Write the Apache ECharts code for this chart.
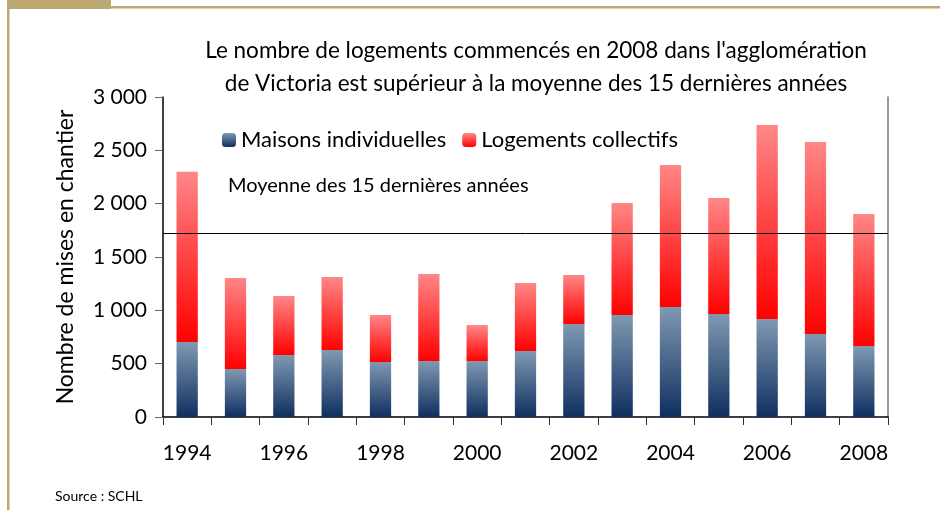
<!DOCTYPE html>
<html><head><meta charset="utf-8">
<script src="https://cdn.jsdelivr.net/npm/echarts@6/dist/echarts.min.js"></script>
<style>html,body{margin:0;padding:0;background:#fff}#c{width:940px;height:510px}</style>
</head><body><div id="c"></div>
<script>
const years = ['1994','1995','1996','1997','1998','1999','2000','2001','2002','2003','2004','2005','2006','2007','2008'];
const maisons = [703, 450, 581, 628, 516, 525, 525, 619, 872, 956, 1031, 966, 919, 778, 666];
const collectifs = [1597, 853, 553, 684, 440, 816, 337, 637, 459, 1050, 1331, 1087, 1818, 1800, 1237];
const moyenne = 1722;
const yTicks = [0, 500, 1000, 1500, 2000, 2500, 3000];

const FONT = 'Lato';
const chart = echarts.init(document.getElementById('c'));
const blueGrad = new echarts.graphic.LinearGradient(0,0,0,1,[{offset:0,color:'#8099b2'},{offset:1,color:'#0f2f60'}]);
const redGrad = new echarts.graphic.LinearGradient(0,0,0,1,[{offset:0,color:'#ff8787'},{offset:1,color:'#ff0000'}]);
const gold = '#bca972';
chart.setOption({
  animation:false,
  textStyle:{fontFamily:FONT},
  title:{
    text:"Le nombre de logements commencés en 2008 dans l'agglomération\nde Victoria est supérieur à la moyenne des 15 dernières années",
    left:531, top:29, textAlign:'center',
    textStyle:{fontFamily:FONT,fontSize:22.5,fontWeight:'normal',color:'#000',lineHeight:33}
  },
  legend:{
    left:217, top:124, itemWidth:14, itemHeight:14, itemGap:16,
    textStyle:{fontFamily:FONT,fontSize:22,color:'#000'},
    data:['Maisons individuelles','Logements collectifs']
  },
  grid:{left:163,right:52,top:97,bottom:93},
  xAxis:{
    type:'category', data:years, boundaryGap:true,
    axisLine:{lineStyle:{color:'#000',width:1.5}},
    axisTick:{show:true,interval:0,length:8,lineStyle:{color:'#333'}},
    axisLabel:{interval:1,fontFamily:FONT,fontSize:21,color:'#000',margin:26}
  },
  yAxis:[{
    type:'value', min:yTicks[0], max:yTicks[yTicks.length-1], interval:500,
    name:'Nombre de mises en chantier', nameLocation:'middle', nameGap:86,
    nameTextStyle:{fontFamily:FONT,fontSize:23,color:'#000'},
    axisLine:{show:true,lineStyle:{color:'#000',width:1.5}},
    axisTick:{show:true,length:8,lineStyle:{color:'#666'}},
    splitLine:{show:false},
    axisLabel:{fontFamily:FONT,fontSize:21,color:'#000',margin:16,
      formatter:v=>String(v).replace(/\B(?=(\d{3})+(?!\d))/g,' ')}
  },{
    type:'value', min:yTicks[0], max:yTicks[yTicks.length-1], position:'right',
    axisLine:{show:true,lineStyle:{color:'#777',width:1.5}},
    axisTick:{show:false}, axisLabel:{show:false}, splitLine:{show:false}
  }],
  series:[
    {name:'Maisons individuelles',type:'bar',stack:'t',data:maisons,barWidth:'44%',
     itemStyle:{color:blueGrad},
     markLine:{silent:true,symbol:'none',label:{show:false},
       lineStyle:{color:'#000',width:1,type:'solid'},data:[{yAxis:moyenne}]}},
    {name:'Logements collectifs',type:'bar',stack:'t',data:collectifs,barWidth:'44%',
     itemStyle:{color:redGrad}}
  ],
  graphic:[
    {type:'rect',shape:{x:7,y:0,width:104,height:9},style:{fill:gold}},
    {type:'rect',shape:{x:111,y:6,width:829,height:2.5},style:{fill:gold}},
    {type:'rect',shape:{x:7,y:0,width:2.5,height:510},style:{fill:gold}},
    {type:'text',left:228,top:176,style:{text:'Moyenne des 15 dernières années',font:'20px '+FONT,fill:'#000'}},
    {type:'text',left:55,top:489,style:{text:'Source : SCHL',font:'14px '+FONT,fill:'#000'}}
  ]
});
</script></body></html>
